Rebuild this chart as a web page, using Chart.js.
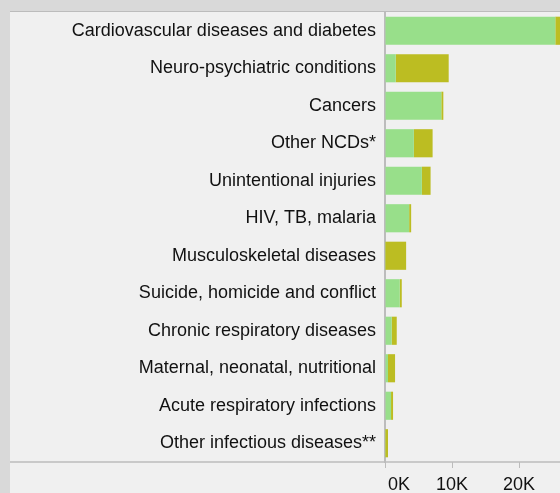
<!DOCTYPE html>
<html>
<head>
<meta charset="utf-8">
<script src="https://cdn.jsdelivr.net/npm/chart.js@4/dist/chart.umd.min.js"></script>
<style>
  html, body { margin: 0; padding: 0; background: #d9d9d9; }
  #burdenChart { display: block; }
</style>
</head>
<body>
<canvas id="burdenChart" width="560" height="493"></canvas>
<script>
// categories, top to bottom
const causes = [
  'Cardiovascular diseases and diabetes',
  'Neuro-psychiatric conditions',
  'Cancers',
  'Other NCDs*',
  'Unintentional injuries',
  'HIV, TB, malaria',
  'Musculoskeletal diseases',
  'Suicide, homicide and conflict',
  'Chronic respiratory diseases',
  'Maternal, neonatal, nutritional',
  'Acute respiratory infections',
  'Other infectious diseases**'
];

// two stacked parts of each bar
const greenPart = [25400, 1600, 8400, 4300, 5500, 3600, 50, 2200, 1000, 450, 900, 50];
const olivePart = [1200, 7900, 300, 2800, 1300, 300, 3100, 300, 750, 1050, 300, 400];

const xTicks = [0, 10000, 20000];
const xTickLabels = ['0K', '10K', '20K'];

const FONT = 'Liberation Sans, Arial, sans-serif';

const panelBg = {
  id: 'panelBg',
  beforeDraw(chart) {
    const c = chart.ctx;
    c.save();
    c.fillStyle = '#d9d9d9';
    c.fillRect(0, 0, chart.width, chart.height);
    c.fillStyle = '#f0f0f0';
    c.fillRect(10, 12, chart.width - 10, chart.height - 12);
    c.strokeStyle = '#bcbcbc';
    c.lineWidth = 1;
    c.beginPath();
    c.moveTo(10, 11.5);
    c.lineTo(chart.width, 11.5);
    c.stroke();
    c.restore();
  },
  afterDraw(chart) {
    const c = chart.ctx;
    const x = chart.scales.x;
    const y = chart.chartArea.bottom;
    c.save();
    // bottom rule runs under the labels too
    c.strokeStyle = '#bcbcbc';
    c.lineWidth = 1.5;
    c.beginPath();
    c.moveTo(10, y);
    c.lineTo(chart.width, y);
    c.stroke();
    // x tick labels, first one kept inside the plot
    c.fillStyle = '#111';
    c.font = '18px ' + FONT;
    c.textBaseline = 'middle';
    xTicks.forEach((v, i) => {
      const px = x.getPixelForValue(v);
      c.textAlign = i === 0 ? 'left' : 'center';
      c.fillText(xTickLabels[i], i === 0 ? px + 3 : px, y + 23);
    });
    c.restore();
  }
};

const ctx = document.getElementById('burdenChart').getContext('2d');

new Chart(ctx, {
  type: 'bar',
  data: {
    labels: causes,
    datasets: [
      {
        label: 'part 1',
        data: greenPart,
        backgroundColor: '#98df8a',
        barPercentage: 0.75,
        categoryPercentage: 1,
      },
      {
        label: 'part 2',
        data: olivePart,
        backgroundColor: '#bcbd22',
        barPercentage: 0.75,
        categoryPercentage: 1,
      },
    ],
  },
  options: {
    indexAxis: 'y',
    responsive: false,
    animation: false,
    layout: { padding: { top: 12, right: 0, bottom: 0, left: 0 } },
    scales: {
      x: {
        stacked: true,
        min: 0,
        max: 26100,
        afterBuildTicks(axis) {
          axis.ticks = xTicks.map(v => ({ value: v }));
        },
        afterFit(axis) {
          axis.height = 31;
        },
        grid: {
          drawOnChartArea: false,
          drawTicks: true,
          tickLength: 6,
          color: '#bcbcbc',
        },
        border: { display: false },
        ticks: { display: false },
      },
      y: {
        stacked: true,
        afterFit(axis) {
          axis.width = 385;
        },
        grid: { display: false },
        border: { display: true, color: '#bcbcbc', width: 2 },
        ticks: {
          padding: 1,
          color: '#111',
          font: { family: FONT, size: 18 },
        },
      },
    },
    plugins: {
      legend: { display: false },
      tooltip: { enabled: false },
    },
  },
  plugins: [panelBg],
});
</script>
</body>
</html>
